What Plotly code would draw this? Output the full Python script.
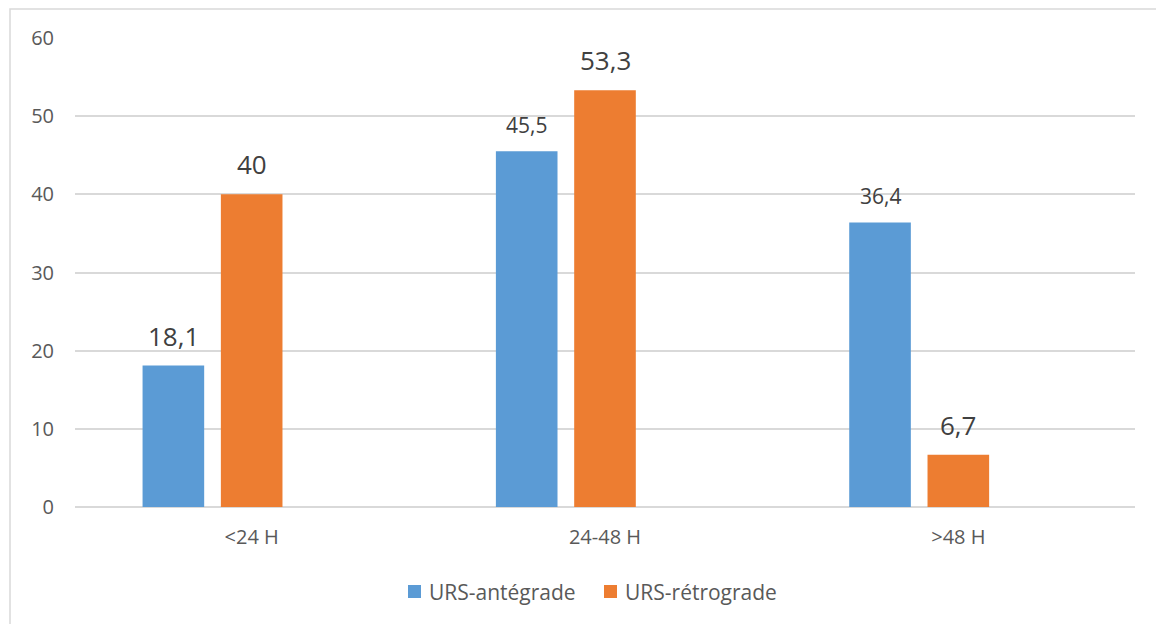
import plotly.graph_objects as go

# Durée de séjour par technique (%)
categories = ["<24 H", "24-48 H", ">48 H"]
series_names = ["URS-antégrade", "URS-rétrograde"]
antegrade = [18.1, 45.5, 36.4]
retrograde = [40, 53.3, 6.7]
y_ticks = [0, 10, 20, 30, 40, 50, 60]

# Styles
colors = {"URS-antégrade": "#5B9BD5", "URS-rétrograde": "#ED7D31"}
label_sizes = {"URS-antégrade": [26, 21, 21], "URS-rétrograde": [26, 26, 26]}
FONT = "Open Sans"
BAR_WIDTH = 0.1744
SLOT = 0.2216
FIRST_OFFSET = -0.3088

# Plot-area geometry in pixels (used to place the legend outside the axes)
W, H = 1156, 624
ML, MR, MT, MB = 75, 21, 38, 117
PW, PH = W - ML - MR, H - MT - MB


def px_x(px):
    return (px - ML) / PW


def px_y(py):
    return (H - MB - py) / PH


values = {"URS-antégrade": antegrade, "URS-rétrograde": retrograde}
xs = list(range(len(categories)))

fig = go.Figure()
annotations = []
for k, name in enumerate(series_names):
    offset = FIRST_OFFSET + k * SLOT
    fig.add_trace(go.Bar(
        x=xs, y=values[name], name=name,
        marker=dict(color=colors[name], line=dict(width=0)),
        width=BAR_WIDTH, offset=offset,
    ))
    for i, v in enumerate(values[name]):
        annotations.append(dict(
            x=i + offset + BAR_WIDTH / 2, y=v, xref="x", yref="y",
            text=f"{v:g}".replace(".", ","), showarrow=False,
            yanchor="bottom", yshift=10,
            font=dict(family=FONT, size=label_sizes[name][i], color="#404040"),
        ))

# Legend drawn below the axes: colour swatch + series name
shapes = [dict(type="rect", xref="paper", yref="paper",
               x0=px_x(10), x1=1.2, y0=-0.5, y1=px_y(9),
               line=dict(color="#D9D9D9", width=1.5), layer="below")]
legend_swatch_left = [408, 604]
legend_text_left = [427, 623]
for name, sx, tx in zip(series_names, legend_swatch_left, legend_text_left):
    shapes.append(dict(type="rect", xref="paper", yref="paper",
                       x0=px_x(sx), x1=px_x(sx + 13),
                       y0=px_y(598), y1=px_y(585),
                       fillcolor=colors[name], line=dict(width=0)))
    annotations.append(dict(x=px_x(tx), y=px_y(592), xref="paper", yref="paper",
                            text=name, showarrow=False,
                            xanchor="left", yanchor="middle",
                            font=dict(family=FONT, size=21, color="#595959")))

fig.update_layout(
    width=W, height=H,
    margin=dict(l=ML, r=MR, t=MT, b=MB),
    paper_bgcolor="white", plot_bgcolor="white",
    font=dict(family=FONT, color="#595959", size=20),
    showlegend=False,
    annotations=annotations,
    shapes=shapes,
)
fig.update_xaxes(
    range=[-0.5, 2.5], tickvals=xs, ticktext=categories,
    showgrid=False, zeroline=False, showline=False, ticks="",
    tickfont=dict(family=FONT, size=20, color="#595959"),
    ticklabelstandoff=16,
)
fig.update_yaxes(
    range=[0, 60], tickvals=y_ticks,
    showgrid=True, gridcolor="#D9D9D9", gridwidth=1.5,
    zeroline=True, zerolinecolor="#D9D9D9", zerolinewidth=1.5,
    showline=False, ticks="",
    tickfont=dict(family=FONT, size=20, color="#595959"),
    ticklabelstandoff=20,
)

fig.write_html("out.html")
